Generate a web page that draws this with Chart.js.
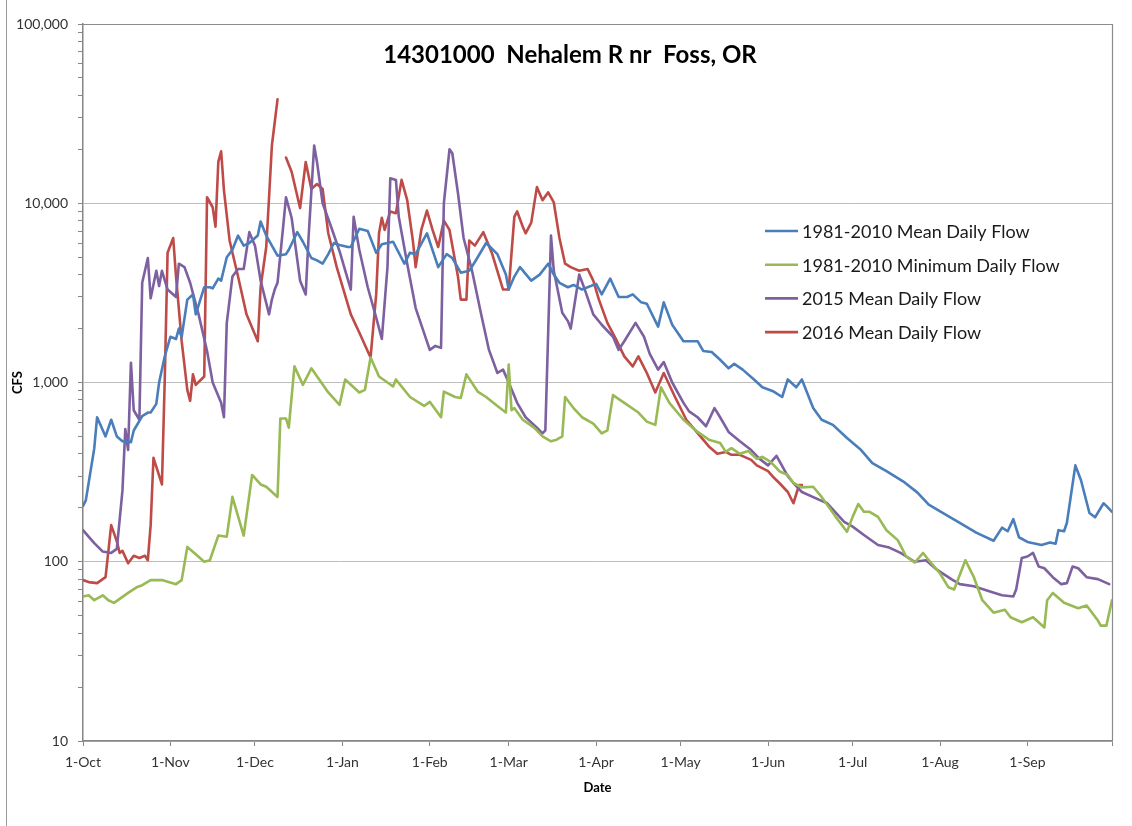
<!DOCTYPE html>
<html>
<head>
<meta charset="utf-8">
<title>14301000 Nehalem R nr Foss, OR</title>
<script src="https://cdn.jsdelivr.net/npm/chart.js@4.4.1/dist/chart.umd.min.js"></script>
<style>
  html, body { margin: 0; padding: 0; background: #fff; }
  canvas { display: block; }
</style>
</head>
<body>
<canvas id="graphCanvas" width="1132" height="826"></canvas>
<script>
// day 0 = 1-Oct
var dayTicks = [0, 31, 61, 92, 123, 151, 182, 212, 243, 273, 304, 335, 365];
var dayLabels = ['1-Oct', '1-Nov', '1-Dec', '1-Jan', '1-Feb', '1-Mar', '1-Apr', '1-May', '1-Jun', '1-Jul', '1-Aug', '1-Sep', ''];
var flowTicks = [10, 100, 1000, 10000, 100000];
var flowLabels = ['10', '100', '1,000', '10,000', '100,000'];

var seriesNames = ['1981-2010 Mean Daily Flow', '1981-2010 Minimum Daily Flow', '2015 Mean Daily Flow', '2016 Mean Daily Flow'];
var seriesColors = ['#4A7EBB', '#98B954', '#7D60A0', '#BE4B48'];

var meanDays = [0,1,4,5,8,10,12,14,17,18,21,23,24,26,27,29,31,33,34,35,37,39,40,43,45,46,48,49,51,53,55,57,59,62,63,65,69,72,73,76,78,81,83,85,87,89,91,94,95,98,101,104,106,110,114,116,118,122,126,129,131,134,137,139,143,147,150,151,153,155,159,162,165,167,169,172,174,177,182,184,187,190,193,195,198,200,204,206,209,213,218,220,223,226,229,231,234,238,241,245,248,250,253,255,259,262,266,271,276,280,285,291,296,300,306,311,317,323,326,328,330,332,335,340,343,345,346,348,349,352,354,357,359,362,363,365];
var meanFlow = [205,220,430,640,500,620,500,470,465,540,650,680,680,760,1000,1400,1800,1750,2000,1800,2900,3100,2400,3400,3400,3350,3800,3700,5000,5500,6600,5800,6000,6600,7900,6600,5100,5200,5500,6900,6100,4950,4800,4600,5200,6000,5850,5700,5700,7200,7000,5300,5900,6100,4600,5300,5200,6800,4400,5200,4950,4100,4200,4700,6000,5200,4000,3300,3900,4400,3700,4000,4600,4000,3600,3400,3500,3300,3550,3100,3800,3000,3000,3100,2800,2750,2050,2800,2100,1700,1700,1500,1480,1340,1200,1270,1180,1040,940,890,830,1040,940,1040,720,620,580,490,420,355,320,280,243,208,183,165,145,131,155,148,173,137,129,124,128,126,150,148,165,345,285,187,177,212,205,190];

var minDays = [0,2,4,7,9,11,16,19,21,24,28,33,35,37,40,43,45,48,51,53,57,60,63,65,69,70,72,73,75,78,81,87,91,93,98,100,102,105,110,111,116,121,123,127,128,132,134,136,140,143,147,150,151,152,153,156,160,163,166,168,170,171,174,177,181,184,186,188,192,197,200,203,205,208,213,218,222,226,228,230,233,236,239,241,244,247,250,252,255,259,262,267,271,273,275,277,279,282,285,289,292,295,298,300,304,307,309,313,316,319,323,327,329,333,337,341,342,344,348,353,356,360,361,363,365];
var minFlow = [64,65,61,65,61,59,67,72,74,79,79,75,79,121,110,100,102,140,138,230,140,305,270,262,230,630,630,560,1230,970,1200,880,750,1040,880,910,1380,1080,950,1040,830,740,780,640,890,830,820,1110,890,830,740,680,1260,700,720,620,560,500,470,480,500,830,720,640,590,520,540,850,770,680,605,580,940,770,620,530,480,460,410,430,400,415,375,385,360,320,305,275,260,262,230,178,147,178,210,190,190,178,150,132,107,99,112,102,86,72,70,102,82,61,52,54,49,46,49,43,61,67,59,55,57,47,44,44,61];

var y2015Days = [0,4,7,10,12,14,15,16,17,18,20,21,23,24,26,27,28,30,33,34,36,38,41,44,46,49,50,51,53,55,57,59,61,63,66,67,68,69,71,72,74,77,79,80,82,83,85,88,91,95,96,98,101,104,106,108,109,111,112,115,118,123,125,127,128,130,131,133,135,138,141,144,147,149,151,154,157,161,163,164,166,167,170,172,173,176,178,181,184,188,190,192,196,199,201,204,206,209,213,215,218,221,224,226,229,233,237,240,243,246,250,252,255,261,264,267,270,273,277,282,286,290,295,299,303,308,311,316,322,326,330,331,333,335,337,339,341,344,347,349,351,353,356,360,364];
var y2015Flow = [150,127,114,112,118,250,550,420,1290,700,620,3600,4950,2950,4200,3450,4200,3300,3000,4600,4400,3600,2400,1500,1000,770,640,2150,3900,4300,4300,6900,5800,3700,2400,2900,3300,3600,7400,10800,8300,3700,3100,6400,21000,17000,10000,7400,5400,3300,8400,5500,3400,2300,1750,4400,13800,13500,8400,4600,2600,1520,1600,1560,10000,20000,19000,11400,6400,4200,2500,1520,1130,1180,1000,770,640,560,520,540,6600,4200,2450,2200,2000,4000,3300,2400,2100,1800,1520,1700,2150,1800,1450,1180,1300,1000,770,690,640,570,720,640,530,470,420,375,345,390,300,275,245,222,212,188,167,157,141,124,120,112,100,102,90,80,75,73,68,65,64,70,105,107,112,94,92,82,75,76,94,92,82,80,75];

var y2016Days = [0,2,5,7,8,10,12,13,14,16,18,20,22,23,24,25,28,29,30,32,33,35,37,38,39,40,43,44,46,47,48,49,50,52,55,58,62,63,65,66,67,69,70,71,72,74,77,79,81,83,85,87,90,95,98,102,104,105,106,107,109,111,113,115,117,118,120,122,124,126,128,130,133,134,136,137,139,142,145,149,151,153,154,156,157,159,161,163,165,167,169,171,173,176,179,181,183,186,189,192,195,197,200,203,206,210,214,219,222,225,228,230,233,237,239,243,245,247,250,252,254,255];
var y2016Flow = [79,77,76,80,82,160,130,112,115,98,108,105,108,102,160,380,270,1040,5300,6400,3900,1700,910,790,1110,970,1080,10800,9500,7400,17000,19500,11800,6200,3900,2400,1700,3400,5700,10800,21000,38000,null,null,18000,15000,9400,17000,12000,12800,12000,6800,4400,2400,1900,1380,3100,6800,8300,7100,9000,8800,13500,10400,6200,4400,7100,9100,7100,5700,8000,7100,3900,2900,2900,6200,5800,6900,5300,3300,3300,8400,9000,7400,6800,7800,12300,10400,11500,10100,6400,4600,4400,4200,4300,3700,2900,2150,1750,1400,1230,1400,1130,880,1130,830,620,500,440,400,410,395,395,370,345,320,295,275,245,212,268,268];

var titleText = '14301000  Nehalem R nr  Foss, OR';

function toPoints(days, flows)
{
    var pts = [];
    for (var i = 0; i < days.length; i++) {
        pts.push({ x: days[i], y: flows[i] });
    }
    return pts;
}

var seriesData = [
    toPoints(meanDays, meanFlow),
    toPoints(minDays, minFlow),
    toPoints(y2015Days, y2015Flow),
    toPoints(y2016Days, y2016Flow)
];

var datasets = [];
for (var s = 0; s < seriesNames.length; s++) {
    datasets.push({
        label: seriesNames[s],
        data: seriesData[s],
        borderColor: seriesColors[s],
        backgroundColor: seriesColors[s],
        borderWidth: 2.6,
        borderJoinStyle: 'round',
        borderCapStyle: 'round',
        pointRadius: 0,
        pointHoverRadius: 0,
        tension: 0,
        fill: false,
        spanGaps: false
    });
}

// title, legend inside plot, plot frame
var decorPlugin = {
    id: 'decor',
    afterDraw: function (chart) {
        var ctx = chart.ctx;
        var a = chart.chartArea;
        ctx.save();

        ctx.strokeStyle = '#8c8c8c';
        ctx.lineWidth = 1.2;
        ctx.beginPath();
        ctx.moveTo(a.left, a.top + 0.5);
        ctx.lineTo(a.right + 0.5, a.top + 0.5);
        ctx.lineTo(a.right + 0.5, a.bottom);
        ctx.stroke();

        ctx.strokeStyle = '#9a9a9a';
        ctx.lineWidth = 1;
        ctx.beginPath();
        ctx.moveTo(6.5, 0);
        ctx.lineTo(6.5, chart.height);
        ctx.stroke();

        ctx.fillStyle = '#000';
        ctx.font = 'bold 24px Lato';
        ctx.textAlign = 'center';
        ctx.textBaseline = 'middle';
        ctx.fillText(titleText, chart.width / 2 + 4, 55);

        ctx.font = '18px Lato';
        ctx.textAlign = 'left';
        chart.data.datasets.forEach(function (ds, i) {
            var y = 231 + i * 33.7;
            ctx.strokeStyle = ds.borderColor;
            ctx.lineWidth = 2.6;
            ctx.beginPath();
            ctx.moveTo(765, y);
            ctx.lineTo(798, y);
            ctx.stroke();
            ctx.fillStyle = '#1a1a1a';
            ctx.fillText(ds.label, 802, y + 1);
        });
        ctx.restore();
    }
};

Chart.defaults.font.family = 'Lato';
Chart.defaults.color = '#333';

new Chart(document.getElementById('graphCanvas'), {
    type: 'line',
    data: { datasets: datasets },
    plugins: [decorPlugin],
    options: {
        responsive: false,
        animation: false,
        layout: { padding: { left: 6, top: 24, right: 20, bottom: 26 } },
        plugins: {
            legend: { display: false },
            tooltip: { enabled: false },
            title: { display: false }
        },
        scales: {
            x: {
                type: 'linear',
                min: 0,
                max: 365,
                afterBuildTicks: function (axis) {
                    axis.ticks = dayTicks.map(function (v) { return { value: v }; });
                },
                afterFit: function (axis) { axis.height = 59; },
                ticks: {
                    autoSkip: false,
                    maxRotation: 0,
                    padding: 8,
                    font: { size: 14 },
                    color: '#333',
                    callback: function (v) {
                        var k = dayTicks.indexOf(v);
                        return k >= 0 ? dayLabels[k] : '';
                    }
                },
                grid: {
                    drawOnChartArea: false,
                    tickLength: 5,
                    color: '#868686',
                    tickColor: '#868686'
                },
                border: { color: '#868686', width: 1.5 },
                title: {
                    display: true,
                    text: 'Date',
                    font: { size: 13, weight: 'bold' },
                    color: '#000',
                    padding: { top: 4, bottom: 4 }
                }
            },
            y: {
                type: 'logarithmic',
                min: 10,
                max: 100000,
                afterBuildTicks: function (axis) {
                    var t = [];
                    for (var d = 0; d < flowTicks.length; d++) {
                        var base = flowTicks[d];
                        t.push({ value: base });
                        if (d < flowTicks.length - 1) {
                            for (var m = 2; m <= 9; m++) {
                                t.push({ value: base * m });
                            }
                        }
                    }
                    axis.ticks = t;
                },
                afterFit: function (axis) { axis.width = 77; },
                ticks: {
                    autoSkip: false,
                    padding: 10,
                    font: { size: 14 },
                    color: '#333',
                    callback: function (v) {
                        var k = flowTicks.indexOf(v);
                        return k >= 0 ? flowLabels[k] : '';
                    }
                },
                grid: {
                    tickLength: 5,
                    color: function (ctx) {
                        return ctx.tick && flowTicks.indexOf(ctx.tick.value) >= 0 ? '#bdbdbd' : 'rgba(0,0,0,0)';
                    },
                    tickColor: '#868686'
                },
                border: { color: '#868686', width: 1.5 },
                title: {
                    display: true,
                    text: 'CFS',
                    font: { size: 13, weight: 'bold' },
                    color: '#000',
                    padding: { top: 4, bottom: 4 }
                }
            }
        }
    }
});
</script>
</body>
</html>
